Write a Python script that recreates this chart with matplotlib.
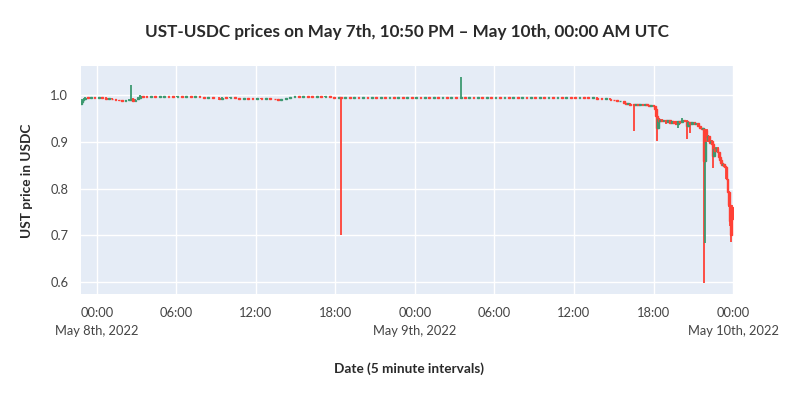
import numpy as np
import pandas as pd
import matplotlib
matplotlib.use("Agg")
import matplotlib.pyplot as plt
import matplotlib.dates as mdates

times = [
    # May 7 evening / May 8 night
    "05-07 22:50", "05-07 22:55", "05-07 23:00", "05-07 23:05", "05-07 23:20", "05-07 23:35", "05-07 23:50",
    "05-08 00:10", "05-08 00:25", "05-08 00:40", "05-08 00:55", "05-08 01:10", "05-08 01:25", "05-08 01:40",
    "05-08 01:55", "05-08 02:10", "05-08 02:25", "05-08 02:35", "05-08 02:45", "05-08 02:55", "05-08 03:05",
    "05-08 03:15", "05-08 03:30",
    # May 8 day
    "05-08 03:45", "05-08 04:05", "05-08 04:25", "05-08 04:45", "05-08 05:05", "05-08 05:25", "05-08 05:45",
    "05-08 06:05", "05-08 06:25", "05-08 06:45", "05-08 07:05", "05-08 07:25", "05-08 07:45", "05-08 08:05",
    "05-08 08:25", "05-08 08:45", "05-08 09:15", "05-08 09:25", "05-08 09:45", "05-08 10:05", "05-08 10:25",
    "05-08 10:45", "05-08 11:05", "05-08 11:25", "05-08 11:45", "05-08 12:05", "05-08 12:25", "05-08 12:45",
    "05-08 13:05", "05-08 13:25", "05-08 13:40", "05-08 13:55", "05-08 14:15", "05-08 14:35", "05-08 14:55",
    "05-08 15:15", "05-08 15:35", "05-08 15:55", "05-08 16:15", "05-08 16:35", "05-08 16:55", "05-08 17:15",
    "05-08 17:35", "05-08 17:55", "05-08 18:15", "05-08 18:25", "05-08 18:45", "05-08 19:05", "05-08 19:25",
    "05-08 19:45", "05-08 20:05", "05-08 20:25", "05-08 20:45", "05-08 21:05", "05-08 21:25", "05-08 21:45",
    "05-08 22:05", "05-08 22:25", "05-08 22:45", "05-08 23:05", "05-08 23:25", "05-08 23:45",
    # May 9 morning
    "05-09 00:05", "05-09 00:25", "05-09 00:45", "05-09 01:05", "05-09 01:25", "05-09 01:45", "05-09 02:05",
    "05-09 02:25", "05-09 02:45", "05-09 03:05", "05-09 03:30", "05-09 03:45", "05-09 04:05", "05-09 04:25",
    "05-09 04:45", "05-09 05:05", "05-09 05:25", "05-09 05:45", "05-09 06:05", "05-09 06:25", "05-09 06:45",
    "05-09 07:05", "05-09 07:25", "05-09 07:45", "05-09 08:05", "05-09 08:25", "05-09 08:45", "05-09 09:05",
    "05-09 09:25", "05-09 09:45", "05-09 10:05", "05-09 10:25", "05-09 10:45", "05-09 11:05", "05-09 11:25",
    "05-09 11:45",
    # May 9 afternoon, slow slide
    "05-09 12:05", "05-09 12:25", "05-09 12:45", "05-09 13:05", "05-09 13:25", "05-09 13:45", "05-09 14:05",
    "05-09 14:25", "05-09 14:45", "05-09 15:00", "05-09 15:15", "05-09 15:30", "05-09 15:45", "05-09 15:55",
    "05-09 16:05", "05-09 16:15", "05-09 16:30", "05-09 16:40", "05-09 16:50", "05-09 17:00", "05-09 17:10",
    "05-09 17:20", "05-09 17:30", "05-09 17:40", "05-09 17:50", "05-09 18:00", "05-09 18:05", "05-09 18:10",
    # May 9 evening, depeg
    "05-09 18:15", "05-09 18:20", "05-09 18:25", "05-09 18:30", "05-09 18:40", "05-09 18:45", "05-09 18:55",
    "05-09 19:05", "05-09 19:15", "05-09 19:25", "05-09 19:30", "05-09 19:40", "05-09 19:50", "05-09 20:00",
    "05-09 20:10", "05-09 20:20", "05-09 20:30", "05-09 20:35", "05-09 20:45", "05-09 20:55", "05-09 21:05",
    "05-09 21:10", "05-09 21:20", "05-09 21:30", "05-09 21:40", "05-09 21:45", "05-09 21:50", "05-09 21:55",
    "05-09 22:00", "05-09 22:05", "05-09 22:10", "05-09 22:15", "05-09 22:20", "05-09 22:25", "05-09 22:30",
    "05-09 22:35", "05-09 22:40", "05-09 22:45", "05-09 22:50", "05-09 22:55", "05-09 23:00", "05-09 23:05",
    "05-09 23:10", "05-09 23:15", "05-09 23:20", "05-09 23:25", "05-09 23:30", "05-09 23:35", "05-09 23:40",
    "05-09 23:45", "05-09 23:50", "05-09 23:55",
]

opens = [
    .981, .986, .990, .993, .995, .994, .995,
    .994, .995, .994, .993, .993, .991, .990,
    .989, .988, .989, .990, .992, .988, .991,
    .995, .998,
    .998, .996, .997, .996, .996, .998, .997,
    .996, .997, .996, .997, .996, .997, .996,
    .995, .996, .995, .993, .995, .994, .995,
    .994, .993, .994, .993, .992, .993, .992,
    .993, .992, .991, .990, .992, .994, .996,
    .998, .997, .998, .997, .996, .997, .996,
    .997, .996, .995, .996, .995, .996, .995,
    .996, .995, .996, .995, .996, .995, .996,
    .995, .996, .995, .996, .995, .996,
    .995, .996, .995, .996, .995, .996, .995,
    .996, .995, .996, .995, .996, .995, .996,
    .995, .996, .995, .996, .995, .996, .995,
    .996, .995, .996, .995, .996, .995, .996,
    .995, .996, .995, .996, .995, .996, .995,
    .996,
    .996, .995, .996, .995, .994, .995, .993,
    .992, .993, .990, .989, .987, .988, .983,
    .981, .982, .980, .979, .980, .979, .980,
    .979, .980, .979, .978, .979, .977, .970,
    .955, .930, .950, .945, .948, .944, .947,
    .943, .946, .941, .945, .944, .938, .945,
    .943, .947, .944, .935, .942, .938, .942,
    .938, .940, .934, .930, .927, .928, .860,
    .925, .905, .912, .902, .898, .903, .896,
    .870, .886, .880, .888, .878, .868, .862,
    .856, .850, .852, .849, .846, .820, .792,
    .765, .745, .760,
]

highs = [
    .987, .991, .994, .996, .996, .996, .996,
    .995, .996, .995, .994, .993, .992, .990,
    .989, .990, .991, 1.022, .993, .991, .996,
    1.000, .999,
    .998, .997, .998, .997, .998, .998, .997,
    .997, .997, .997, .997, .997, .997, .996,
    .996, .996, .995, .995, .995, .995, .995,
    .994, .994, .994, .993, .993, .993, .993,
    .993, .992, .991, .992, .994, .996, .998,
    .998, .998, .998, .997, .997, .997, .997,
    .997, .996, .996, .996, .996, .996, .996,
    .996, .996, .996, .996, .996, .996, .996,
    .996, .996, .996, .996, .996, .996,
    .996, .996, .996, .996, .996, .996, .996,
    .996, .996, .996, 1.038, .996, .996, .996,
    .996, .996, .996, .996, .996, .996, .996,
    .996, .996, .996, .996, .996, .996, .996,
    .996, .996, .996, .996, .996, .996, .996,
    .996,
    .996, .996, .996, .995, .995, .995, .993,
    .993, .993, .990, .989, .988, .988, .983,
    .982, .982, .981, .980, .980, .980, .980,
    .980, .980, .979, .979, .979, .977, .970,
    .956, .952, .950, .948, .948, .947, .947,
    .946, .946, .945, .945, .944, .945, .945,
    .951, .947, .946, .942, .942, .942, .942,
    .940, .940, .934, .930, .929, .930, .925,
    .927, .915, .912, .902, .903, .903, .897,
    .888, .886, .889, .888, .878, .868, .862,
    .856, .852, .852, .849, .846, .820, .795,
    .770, .748, .765,
]

lows = [
    .980, .985, .989, .992, .994, .994, .994,
    .993, .994, .993, .992, .991, .990, .988,
    .987, .988, .988, .989, .986, .987, .990,
    .995, .996,
    .996, .995, .996, .995, .996, .997, .996,
    .995, .996, .995, .996, .995, .996, .995,
    .994, .995, .990, .993, .994, .993, .994,
    .993, .992, .993, .992, .991, .992, .991,
    .992, .991, .987, .990, .992, .994, .996,
    .997, .997, .997, .996, .996, .996, .996,
    .996, .995, .995, .700, .995, .995, .995,
    .995, .995, .995, .995, .995, .995, .995,
    .995, .995, .995, .995, .995, .995,
    .995, .995, .995, .995, .995, .995, .995,
    .995, .995, .995, .995, .995, .995, .995,
    .995, .995, .995, .995, .995, .995, .995,
    .995, .995, .995, .995, .995, .995, .995,
    .995, .995, .995, .995, .995, .995, .995,
    .995,
    .995, .995, .995, .994, .994, .993, .992,
    .992, .990, .989, .987, .987, .983, .981,
    .981, .980, .923, .979, .979, .979, .979,
    .979, .979, .978, .978, .977, .970, .955,
    .901, .928, .945, .944, .944, .943, .938,
    .942, .941, .940, .940, .935, .930, .938,
    .943, .943, .905, .935, .919, .938, .938,
    .937, .934, .930, .927, .926, .598, .684,
    .900, .903, .902, .898, .897, .896, .844,
    .870, .880, .880, .878, .868, .862, .856,
    .851, .849, .849, .846, .820, .792, .760,
    .720, .686, .725,
]

closes = [
    .986, .990, .993, .995, .994, .995, .994,
    .995, .994, .993, .993, .991, .990, .989,
    .988, .989, .990, .992, .988, .990, .995,
    .999, .997,
    .997, .997, .996, .997, .998, .997, .996,
    .997, .996, .997, .996, .997, .996, .995,
    .996, .995, .993, .995, .994, .995, .994,
    .993, .994, .993, .992, .993, .992, .993,
    .992, .991, .990, .992, .994, .996, .998,
    .997, .998, .997, .996, .997, .996, .997,
    .996, .995, .996, .995, .996, .995, .996,
    .995, .996, .995, .996, .995, .996, .995,
    .996, .995, .996, .995, .996, .995,
    .996, .995, .996, .995, .996, .995, .996,
    .995, .996, .995, .996, .995, .996, .995,
    .996, .995, .996, .995, .996, .995, .996,
    .995, .996, .995, .996, .995, .996, .995,
    .996, .995, .996, .995, .996, .995, .996,
    .995,
    .995, .996, .995, .994, .995, .993, .992,
    .993, .990, .989, .987, .988, .983, .981,
    .982, .980, .979, .980, .979, .980, .979,
    .980, .979, .978, .979, .977, .970, .955,
    .930, .950, .945, .948, .944, .947, .943,
    .946, .941, .945, .940, .938, .945, .943,
    .947, .944, .935, .942, .938, .942, .938,
    .940, .934, .930, .927, .929, .860, .900,
    .910, .912, .902, .898, .903, .896, .870,
    .886, .880, .888, .878, .868, .862, .856,
    .851, .852, .849, .846, .820, .792, .765,
    .730, .700, .735,
]

tick_times = ["05-08 00:00", "05-08 06:00", "05-08 12:00", "05-08 18:00", "05-09 00:00",
              "05-09 06:00", "05-09 12:00", "05-09 18:00", "05-10 00:00"]
tick_labels = ["00:00\nMay 8th, 2022", "06:00", "12:00", "18:00", "00:00\nMay 9th, 2022",
               "06:00", "12:00", "18:00", "00:00\nMay 10th, 2022"]
y_ticks = [0.6, 0.7, 0.8, 0.9, 1.0]

plt.rcParams['font.family'] = ['Lato', 'DejaVu Sans']

t = mdates.date2num(pd.to_datetime(["2022-" + s for s in times]))
o = np.array(opens)
h = np.array(highs)
l = np.array(lows)
c = np.array(closes)
up = c >= o
colors = np.where(up, '#3D9970', '#FF4136')

fig = plt.figure(figsize=(8, 4.03), dpi=100)
ax = fig.add_axes([0.101, 0.270, 0.816, 0.566])
ax.set_facecolor('#E5ECF6')

five_min = 5 / 1440
ax.vlines(t, l, h, colors=colors, linewidth=1.3, zorder=3)
ax.bar(t, np.maximum(np.abs(c - o), 0.0015), bottom=np.minimum(o, c) - 0.0004,
       width=five_min * 1.6, color=colors, edgecolor=colors, linewidth=1.0, zorder=3)

x0 = mdates.date2num(pd.Timestamp("2022-05-07 22:47:30"))
x1 = mdates.date2num(pd.Timestamp("2022-05-10 00:02:30"))
ax.set_xlim(x0, x1)
ax.set_ylim(0.574, 1.062)

ax.set_xticks(mdates.date2num(pd.to_datetime(["2022-" + s for s in tick_times])))
ax.set_xticklabels(tick_labels, linespacing=1.65)
ax.set_yticks(y_ticks)
ax.set_yticklabels([f"{v:.1f}" for v in y_ticks])
ax.tick_params(length=0, labelsize=9.3, labelcolor='#444444')
ax.tick_params(axis='x', pad=9)
ax.tick_params(axis='y', pad=9)
ax.grid(True, color='white', linewidth=1.0, zorder=0)
ax.set_axisbelow(True)
for s in ax.spines.values():
    s.set_visible(False)

fig.text(0.509, 0.920, "UST-USDC prices on May 7th, 10:50 PM \u2013 May 10th, 00:00 AM UTC",
         ha='center', va='center', fontsize=12.3, fontweight='bold', color='#2a2a2a')
fig.text(0.511, 1 - 369 / 403, "Date (5 minute intervals)", ha='center', va='center',
         fontsize=9.8, fontweight='bold', color='#2a2a2a')
fig.text(27 / 800, 1 - 181 / 403, "UST price in USDC", ha='center', va='center', rotation=90,
         fontsize=9.8, fontweight='bold', color='#2a2a2a')

fig.savefig("out.png", dpi=100)
